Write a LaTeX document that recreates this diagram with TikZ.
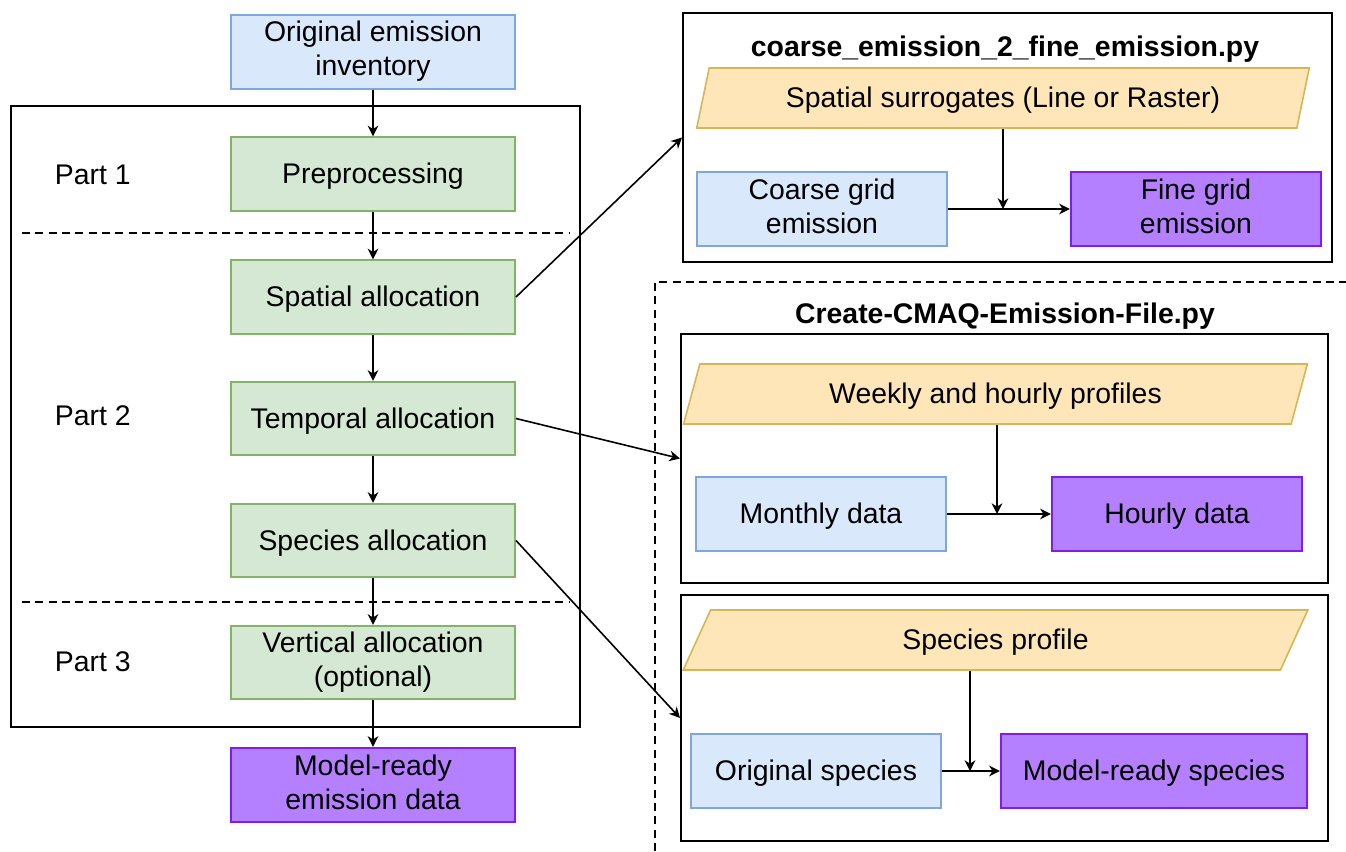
\documentclass[tikz,border=0pt]{standalone}
\usepackage{fontspec}
\setmainfont{Liberation Sans}
\usetikzlibrary{arrows.meta,shapes.geometric,calc}

\definecolor{bluefill}{HTML}{DAE8FC}
\definecolor{blueline}{HTML}{7EA6E0}
\definecolor{greenfill}{HTML}{D5E8D4}
\definecolor{greenline}{HTML}{82B366}
\definecolor{purplefill}{HTML}{B580FF}
\definecolor{purpleline}{HTML}{7F1CF4}
\definecolor{yellowfill}{HTML}{FFE6B8}
\definecolor{yellowline}{HTML}{D6B656}

% line box as tall as the font's ascent and descent
\newcommand{\lbox}{\rule[-0.212em]{0pt}{1.117em}}

\tikzset{every picture/.style={line width=0.75pt}}

\begin{document}
\begin{tikzpicture}[x=0.75pt,y=0.75pt,yscale=-1,xscale=1,
    every node/.style={font=\fontsize{21.3}{25.5}\selectfont,execute at begin node=\lbox,execute at end node=\lbox},
    stepbox/.style={draw=greenline,fill=greenfill,line width=1.5pt,minimum width=213pt,minimum height=55pt,align=center},
    inbox/.style={draw=blueline,fill=bluefill,line width=1.5pt,minimum width=187.5pt,minimum height=55.5pt,align=center},
    outbox/.style={draw=purpleline,fill=purplefill,line width=1.8pt,minimum width=187.5pt,minimum height=55.5pt,align=center},
    profile/.style={draw=yellowline,fill=yellowfill,line width=1.2pt,shape=trapezium,trapezium left angle=77,trapezium right angle=103,trapezium stretches=true,minimum width=469pt,minimum height=45pt},
    frame/.style={draw,line width=1.5pt,inner sep=0pt,execute at begin node={},execute at end node={}},
    title/.style={font=\fontsize{21.3}{25.5}\selectfont\bfseries},
    arr/.style={line width=1.2pt,-{Stealth[length=8pt,width=8pt,inset=2.5pt]}}]

    % page
    \fill[white] (0,0) rectangle (1346,851);
    \useasboundingbox (0,0) rectangle (1346,851);

    % outer frames
    \node[frame,minimum width=426.75pt,minimum height=465.75pt] (main) at (295.5,416.5) {};
    \node[frame,minimum width=486.75pt,minimum height=186.75pt] (fr1) at (1007.5,137.5) {};
    \node[frame,minimum width=485.25pt,minimum height=186.75pt] (fr2) at (1004.5,458.5) {};
    \node[frame,minimum width=485.25pt,minimum height=184.5pt] (fr3) at (1004.5,718) {};
    \draw[line width=1.2pt,dash pattern=on 6pt off 4pt] (655,851) -- (655,282) -- (1346,282);

    % part separators
    \draw[line width=1.2pt,dash pattern=on 6pt off 4pt] (22,233) -- (570,233);
    \draw[line width=1.2pt,dash pattern=on 6pt off 4pt] (22,602) -- (570,602);

    % main chain
    \node[inbox,minimum width=213pt] (inv) at (373,51.5) {Original emission\\inventory};
    \node[stepbox] (pre) at (373,174) {Preprocessing};
    \node[stepbox] (spa) at (373,297) {Spatial allocation};
    \node[stepbox] (tem) at (373,418.5) {Temporal allocation};
    \node[stepbox] (spe) at (373,540.5) {Species allocation};
    \node[stepbox] (ver) at (373,662.5) {Vertical allocation\\(optional)};
    \node[outbox,minimum width=213pt] (mrd) at (373,785) {Model-ready\\emission data};

    \node[anchor=west] (p1) at (50,175) {Part 1};
    \node[anchor=west] (p2) at (50,416) {Part 2};
    \node[anchor=west] (p3) at (50,662) {Part 3};

    \draw[arr] (inv) -- (pre);
    \draw[arr] (pre) -- (spa);
    \draw[arr] (spa) -- (tem);
    \draw[arr] (tem) -- (spe);
    \draw[arr] (spe) -- (ver);
    \draw[arr] (ver) -- (mrd);

    % coarse to fine
    \node[title] (t1) at (1005,47) {coarse\_emission\_2\_fine\_emission.py};
    \node[profile,minimum width=460pt] (srg) at (1003,98) {Spatial surrogates (Line or Raster)};
    \node[inbox] (cge) at (822,209) {Coarse grid\\emission};
    \node[outbox] (fge) at (1196,209) {Fine grid\\emission};
    \coordinate (m1) at (1003,209);
    \draw[arr] (cge) -- (fge);
    \draw[arr] (srg.south -| m1) -- (m1);

    % CMAQ emission file
    \node[title] (t2) at (1005,314) {Create-CMAQ-Emission-File.py};
    \node[profile] (whp) at (995.5,394) {Weekly and hourly profiles};
    \node[inbox] (mon) at (821,514) {Monthly data};
    \node[outbox] (hou) at (1177,514) {Hourly data};
    \coordinate (m2) at (997,514);
    \draw[arr] (mon) -- (hou);
    \draw[arr] (whp.south -| m2) -- (m2);

    \node[profile] (spp) at (995.5,640) {Species profile};
    \node[inbox] (osp) at (816,771) {Original species};
    \node[outbox,minimum width=229.5pt] (msp) at (1154,771) {Model-ready species};
    \coordinate (m3) at (970,771);
    \draw[arr] (osp) -- (msp);
    \draw[arr] (spp.south -| m3) -- (m3);

    % links to the scripts
    \draw[arr] (spa.east) -- (fr1.west);
    \draw[arr] (tem.east) -- (fr2.west);
    \draw[arr] (spe.east) -- (fr3.west);

\end{tikzpicture}
\end{document}
